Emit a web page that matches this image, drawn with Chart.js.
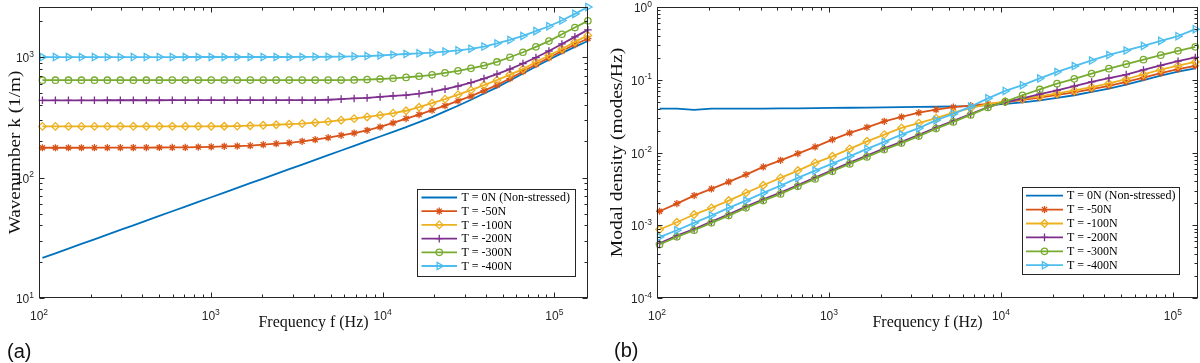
<!DOCTYPE html>
<html>
<head>
<meta charset="utf-8">
<script src="https://cdn.jsdelivr.net/npm/chart.js@4.4.1/dist/chart.umd.min.js"></script>
<style>
  body { margin: 0; background: #fff; width: 1200px; height: 363px; position: relative; overflow: hidden; }
  canvas { position: absolute; top: 0; }
  #chartA { left: 0; }
  #chartB { left: 600px; }
  .tag { position: absolute; font: 20px "Liberation Sans", Arial, sans-serif; color: #111; line-height: 23px; }
</style>
</head>
<body>
<canvas id="chartA" width="600" height="363"></canvas>
<canvas id="chartB" width="600" height="363"></canvas>
<div class="tag" style="left:7px;top:340px">(a)</div>
<div class="tag" style="left:614px;top:339px">(b)</div>
<script>
// ---- (a) wavenumber ----
const freqA = [104.7, 124.6, 148.4, 176.6, 210.2, 250.0, 297.6, 354.2, 421.5, 501.8,
  597.0, 710.6, 845.7, 1006, 1198, 1426, 1697, 2020, 2403, 2861,
  3404, 4052, 4823, 5740, 6831, 8128, 9674, 11514, 13703, 16310,
  19409, 23098, 27496, 32718, 38941, 46345, 55156, 65646, 78124, 92990,
  110662, 131700, 156747];
const kNS = [21.5, 23.5, 25.7, 28.1, 30.7, 33.6, 36.7, 40.1, 43.9, 48.0,
  52.5, 57.4, 62.7, 68.6, 75.0, 82.0, 89.7, 98.0, 107.2, 117.2,
  128.1, 140.1, 153.2, 167.5, 183.1, 200.2, 218.9, 239.4, 261.6, 287.9,
  316.8, 353.4, 394.3, 441.6, 497.5, 560.2, 638.3, 728.8, 833.5, 947.6,
  1077.7, 1213.9, 1356.9];
const k50 = [176.5, 176.5, 176.6, 176.6, 176.7, 176.8, 176.9, 177.0, 177.2, 177.4,
  177.8, 177.8, 178.9, 179.6, 181.3, 182.4, 183.8, 187.3, 190.9, 193.9,
  199.5, 206.1, 214.1, 223.9, 233.9, 246.5, 262.6, 283.5, 308.5, 333.1,
  361.7, 394.3, 432.3, 473.2, 525.9, 584.6, 662.2, 757.2, 865.9, 984.8,
  1122, 1268.9, 1423.4];
const k100 = [265.5, 265.5, 265.6, 265.6, 265.7, 265.7, 265.8, 265.8, 265.9, 265.9,
  266, 266, 266, 266, 266.2, 267, 269, 271, 274, 277,
  280, 285, 291, 299, 308, 318, 329, 342, 358, 383,
  414, 447, 487, 531, 585, 643, 715, 794, 908, 1029,
  1166, 1334, 1511];
const k200 = [437, 437, 437, 437, 437, 437.5, 437.5, 437.5, 437.5, 437.5,
  438, 438, 438, 438, 438, 438, 438, 438, 438, 438,
  438, 438, 442, 447, 453, 458, 466, 476, 482, 496,
  516, 541, 573, 613, 662, 722, 794, 883, 990, 1122,
  1283, 1468, 1679];
const k300 = [642, 642, 642, 642, 642, 642, 642, 642, 642, 642,
  643, 643, 643, 643, 643, 643, 643, 643, 643, 643,
  643, 643, 643, 644, 645, 650, 657, 666, 677, 692,
  712, 738, 768, 805, 850, 910, 995, 1095, 1215, 1355,
  1545, 1755, 1995];
const k400 = [998, 998, 998, 998, 998, 998, 999, 999, 999, 999,
  999, 1000, 1000, 1000, 1000, 1000, 1000, 1000, 1000, 1000,
  1001, 1003, 1005, 1008, 1012, 1018, 1029, 1045, 1059, 1073,
  1086, 1110, 1135, 1170, 1220, 1295, 1385, 1495, 1640, 1800,
  2010, 2280, 2600];

// ---- (b) modal density ----
const freqB = [103.5, 130.5, 164.4, 207.3, 261.2, 329.2, 415.0, 523.0, 659.2, 830.8,
  1047, 1320, 1663, 2097, 2642, 3331, 4198, 5291, 6668, 8404,
  10593, 13351, 16827, 21208, 26730, 33690, 42462, 53518, 67453, 85017,
  107152, 135052];
const dNS = [4.009e-2, 4.009e-2, 3.847e-2, 4.009e-2, 4.009e-2, 4.009e-2, 4.009e-2, 4.035e-2, 4.047e-2, 4.073e-2,
  4.099e-2, 4.125e-2, 4.151e-2, 4.177e-2, 4.203e-2, 4.23e-2, 4.257e-2, 4.297e-2, 4.352e-2, 4.478e-2,
  4.651e-2, 4.878e-2, 5.195e-2, 5.623e-2, 6.124e-2, 6.8e-2, 7.544e-2, 8.564e-2, 9.874e-2, 0.1138,
  0.1292, 0.1429];
const d50 = [1.557e-3, 1.987e-3, 2.559e-3, 3.162e-3, 3.947e-3, 4.97e-3, 6.34e-3, 7.81e-3, 9.66e-3, 1.194e-2,
  1.504e-2, 1.859e-2, 2.219e-2, 2.683e-2, 3.083e-2, 3.532e-2, 3.884e-2, 4.203e-2, 4.407e-2, 4.651e-2,
  4.893e-2, 5.28e-2, 5.677e-2, 6.183e-2, 6.69e-2, 7.43e-2, 8.22e-2, 9.33e-2, 0.1069, 0.1232,
  0.1398, 0.1547];
const d100 = [8.73e-4, 1.1e-3, 1.403e-3, 1.734e-3, 2.184e-3, 2.787e-3, 3.544e-3, 4.478e-3, 5.641e-3, 7.197e-3,
  8.867e-3, 1.121e-2, 1.425e-2, 1.761e-2, 2.177e-2, 2.534e-2, 2.969e-2, 3.532e-2, 4.073e-2, 4.621e-2,
  5.032e-2, 5.465e-2, 5.897e-2, 6.482e-2, 7.129e-2, 7.91e-2, 8.896e-2, 0.1016, 0.1183, 0.1376,
  0.1562, 0.1756];
const d200 = [5.64e-4, 7.2e-4, 8.87e-4, 1.121e-3, 1.412e-3, 1.8e-3, 2.268e-3, 2.804e-3, 3.566e-3, 4.506e-3,
  5.731e-3, 7.243e-3, 9.04e-3, 1.139e-2, 1.398e-2, 1.745e-2, 2.198e-2, 2.717e-2, 3.369e-2, 4.203e-2,
  4.924e-2, 5.535e-2, 6.343e-2, 7.153e-2, 8.171e-2, 9.33e-2, 0.1052, 0.1175, 0.1363, 0.1572,
  0.18, 0.2025];
const d300 = [5.43e-4, 6.93e-4, 8.54e-4, 1.079e-3, 1.359e-3, 1.734e-3, 2.184e-3, 2.699e-3, 3.433e-3, 4.338e-3,
  5.516e-3, 6.974e-3, 8.7e-3, 1.096e-2, 1.346e-2, 1.68e-2, 2.13e-2, 2.633e-2, 3.285e-2, 4.164e-2,
  5.001e-2, 6.124e-2, 7.36e-2, 8.84e-2, 0.1029, 0.1213, 0.1421, 0.1638, 0.1888, 0.2177,
  0.2495, 0.2831];
const d400 = [6.886e-4, 8.54e-4, 1.079e-3, 1.359e-3, 1.734e-3, 2.184e-3, 2.787e-3, 3.51e-3, 4.478e-3, 5.641e-3,
  7.04e-3, 8.867e-3, 1.121e-2, 1.398e-2, 1.761e-2, 2.163e-2, 2.787e-2, 3.39e-2, 4.27e-2, 5.553e-2,
  7.018e-2, 8.43e-2, 0.1042, 0.128, 0.1542, 0.1841, 0.2192, 0.2527, 0.2921, 0.3422,
  0.3971, 0.4956];

const labels = ['T = 0N (Non-stressed)', 'T = -50N', 'T = -100N', 'T = -200N', 'T = -300N', 'T = -400N'];

// MATLAB default line colours and markers
const looks = [
  { color: '#0072BD', style: false, r: 0 },
  { color: '#D95319', style: 'star', r: 3.6 },
  { color: '#EDB120', style: 'rectRot', r: 3.8 },
  { color: '#7E2F8E', style: 'cross', r: 3.8 },
  { color: '#77AC30', style: 'circle', r: 3.2 },
  { color: '#4DBEEE', style: 'triangle', r: 4.2, rot: 90 },
];

const AXIS = '#262626';
const SANS = '"Liberation Sans", Arial, sans-serif';
const SERIF = '"Liberation Serif", "Times New Roman", serif';

function drawPow(ctx, exp, x, y, align) {
  ctx.font = '12px ' + SANS;
  const wb = ctx.measureText('10').width;
  ctx.font = '8.5px ' + SANS;
  const we = ctx.measureText(exp).width;
  const x0 = align === 'center' ? x - (wb + we) / 2 : x - wb - we;
  ctx.textAlign = 'left';
  ctx.textBaseline = 'alphabetic';
  ctx.font = '12px ' + SANS;
  ctx.fillText('10', x0, y);
  ctx.font = '8.5px ' + SANS;
  ctx.fillText(exp, x0 + wb, y - 5.5);
}

function logTicks(scale, cb) {
  const lo = Math.floor(Math.log10(scale.min)), hi = Math.ceil(Math.log10(scale.max));
  for (let d = lo; d <= hi; d++) {
    for (let m = 1; m <= 9; m++) {
      const v = m * Math.pow(10, d);
      if (v < scale.min * 0.999 || v > scale.max * 1.001) continue;
      cb(v, m === 1, d);
    }
  }
}

// box, inward ticks on all four sides, tick labels, titles and legend
const framePlugin = {
  id: 'frame',
  afterDatasetsDraw(chart, args, o) {
    const { ctx, chartArea: a, scales: { x, y } } = chart;
    const L = Math.round(a.left) + 0.5, R = Math.round(a.right) - 0.5;
    const T = Math.round(a.top) + 0.5, B = Math.round(a.bottom) - 0.5;
    ctx.save();
    ctx.strokeStyle = AXIS;
    ctx.lineWidth = 1;
    ctx.beginPath();
    logTicks(x, (v, major) => {
      const p = Math.round(x.getPixelForValue(v)) + 0.5, len = major ? 5 : 3;
      ctx.moveTo(p, B); ctx.lineTo(p, B - len);
      ctx.moveTo(p, T); ctx.lineTo(p, T + len);
    });
    logTicks(y, (v, major) => {
      const p = Math.round(y.getPixelForValue(v)) + 0.5, len = major ? 5 : 3;
      ctx.moveTo(L, p); ctx.lineTo(L + len, p);
      ctx.moveTo(R, p); ctx.lineTo(R - len, p);
    });
    ctx.stroke();
    ctx.strokeRect(L, T, R - L, B - T);

    ctx.fillStyle = AXIS;
    logTicks(x, (v, major, d) => {
      if (major) drawPow(ctx, String(d), x.getPixelForValue(v), a.bottom + 22, 'center');
    });
    logTicks(y, (v, major, d) => {
      if (major) drawPow(ctx, String(d), a.left - 5, y.getPixelForValue(v) + 5, 'right');
    });

    ctx.fillStyle = '#111';
    ctx.font = '16px ' + SERIF;
    ctx.textAlign = 'center';
    ctx.textBaseline = 'alphabetic';
    ctx.fillText('Frequency f (Hz)', (a.left + a.right) / 2, 327);
    ctx.save();
    ctx.translate(o.yTitleX, (a.top + a.bottom) / 2);
    ctx.rotate(-Math.PI / 2);
    ctx.scale(o.yStretch, 1);
    ctx.fillText(o.yTitle, 0, 0);
    ctx.restore();

    // legend
    const lg = o.legend;
    ctx.fillStyle = '#fff';
    ctx.fillRect(lg.x0, lg.y0, lg.x1 - lg.x0, lg.y1 - lg.y0);
    ctx.strokeStyle = AXIS;
    ctx.lineWidth = 1;
    ctx.strokeRect(lg.x0 + 0.5, lg.y0 + 0.5, lg.x1 - lg.x0, lg.y1 - lg.y0);
    ctx.font = '12px ' + SERIF;
    ctx.textAlign = 'left';
    ctx.textBaseline = 'middle';
    labels.forEach((txt, i) => {
      const ry = lg.row0 + i * lg.step, lk = looks[i];
      ctx.strokeStyle = lk.color;
      ctx.lineWidth = 1.8;
      ctx.beginPath();
      ctx.moveTo(lg.lx0, ry); ctx.lineTo(lg.lx1, ry);
      ctx.stroke();
      if (lk.style && Chart.helpers && Chart.helpers.drawPoint) {
        ctx.lineWidth = 1.3;
        ctx.fillStyle = 'rgba(0,0,0,0)';
        Chart.helpers.drawPoint(ctx, { pointStyle: lk.style, radius: lk.r, rotation: lk.rot || 0, borderWidth: 1.3 },
          (lg.lx0 + lg.lx1) / 2, ry);
      }
      ctx.fillStyle = '#000';
      ctx.fillText(txt, lg.tx, ry + 0.5);
    });
    ctx.restore();
  }
};

function buildSets(freq, series) {
  return series.map((vals, i) => ({
    label: labels[i],
    data: freq.map((f, j) => ({ x: f, y: vals[j] })),
    borderColor: looks[i].color,
    borderWidth: 1.8,
    pointStyle: looks[i].style,
    pointRadius: looks[i].r,
    pointRotation: looks[i].rot || 0,
    pointBorderColor: looks[i].color,
    pointBackgroundColor: 'rgba(0,0,0,0)',
    pointBorderWidth: 1.3,
    tension: 0,
    fill: false,
    clip: false,
    order: 5 - i,
  }));
}

function initLogChart(canvasId, freq, series, cfg) {
  return new Chart(document.getElementById(canvasId), {
    type: 'line',
    data: { datasets: buildSets(freq, series) },
    plugins: [framePlugin],
    options: {
      responsive: false,
      animation: false,
      events: [],
      devicePixelRatio: 1,
      layout: { autoPadding: false, padding: { left: 0, top: cfg.top, right: cfg.right, bottom: 0 } },
      plugins: {
        legend: { display: false },
        tooltip: { enabled: false },
        frame: { yTitle: cfg.yTitle, yTitleX: cfg.yTitleX, yStretch: cfg.yStretch, legend: cfg.legend },
      },
      scales: {
        x: {
          type: 'logarithmic', min: 100, max: cfg.xMax,
          ticks: { display: false }, grid: { display: false }, border: { display: false },
          afterFit(s) { s.height = cfg.xH; },
        },
        y: {
          type: 'logarithmic', min: cfg.yMin, max: cfg.yMax,
          ticks: { display: false }, grid: { display: false }, border: { display: false },
          afterFit(s) { s.width = cfg.yW; },
        },
      },
    },
  });
}

initLogChart('chartA', freqA, [kNS, k50, k100, k200, k300, k400], {
  xMax: 157000, yMin: 10, yMax: 2600,
  top: 7, right: 12, yW: 39, xH: 65,
  yTitle: 'Wavenumber k (1/m)', yTitleX: 20, yStretch: 1.2,
  legend: { x0: 417, y0: 189, x1: 575, y1: 276, row0: 197.5, step: 13.7, lx0: 421.5, lx1: 457, tx: 461.5 },
});

initLogChart('chartB', freqB, [dNS, d50, d100, d200, d300, d400], {
  xMax: 140000, yMin: 1e-4, yMax: 1,
  top: 7, right: 2, yW: 57, xH: 65,
  yTitle: 'Modal density (modes/Hz)', yTitleX: 22, yStretch: 1.22,
  legend: { x0: 422, y0: 187, x1: 579, y1: 274, row0: 195.7, step: 13.9, lx0: 426, lx1: 463, tx: 467 },
});
</script>
</body>
</html>
